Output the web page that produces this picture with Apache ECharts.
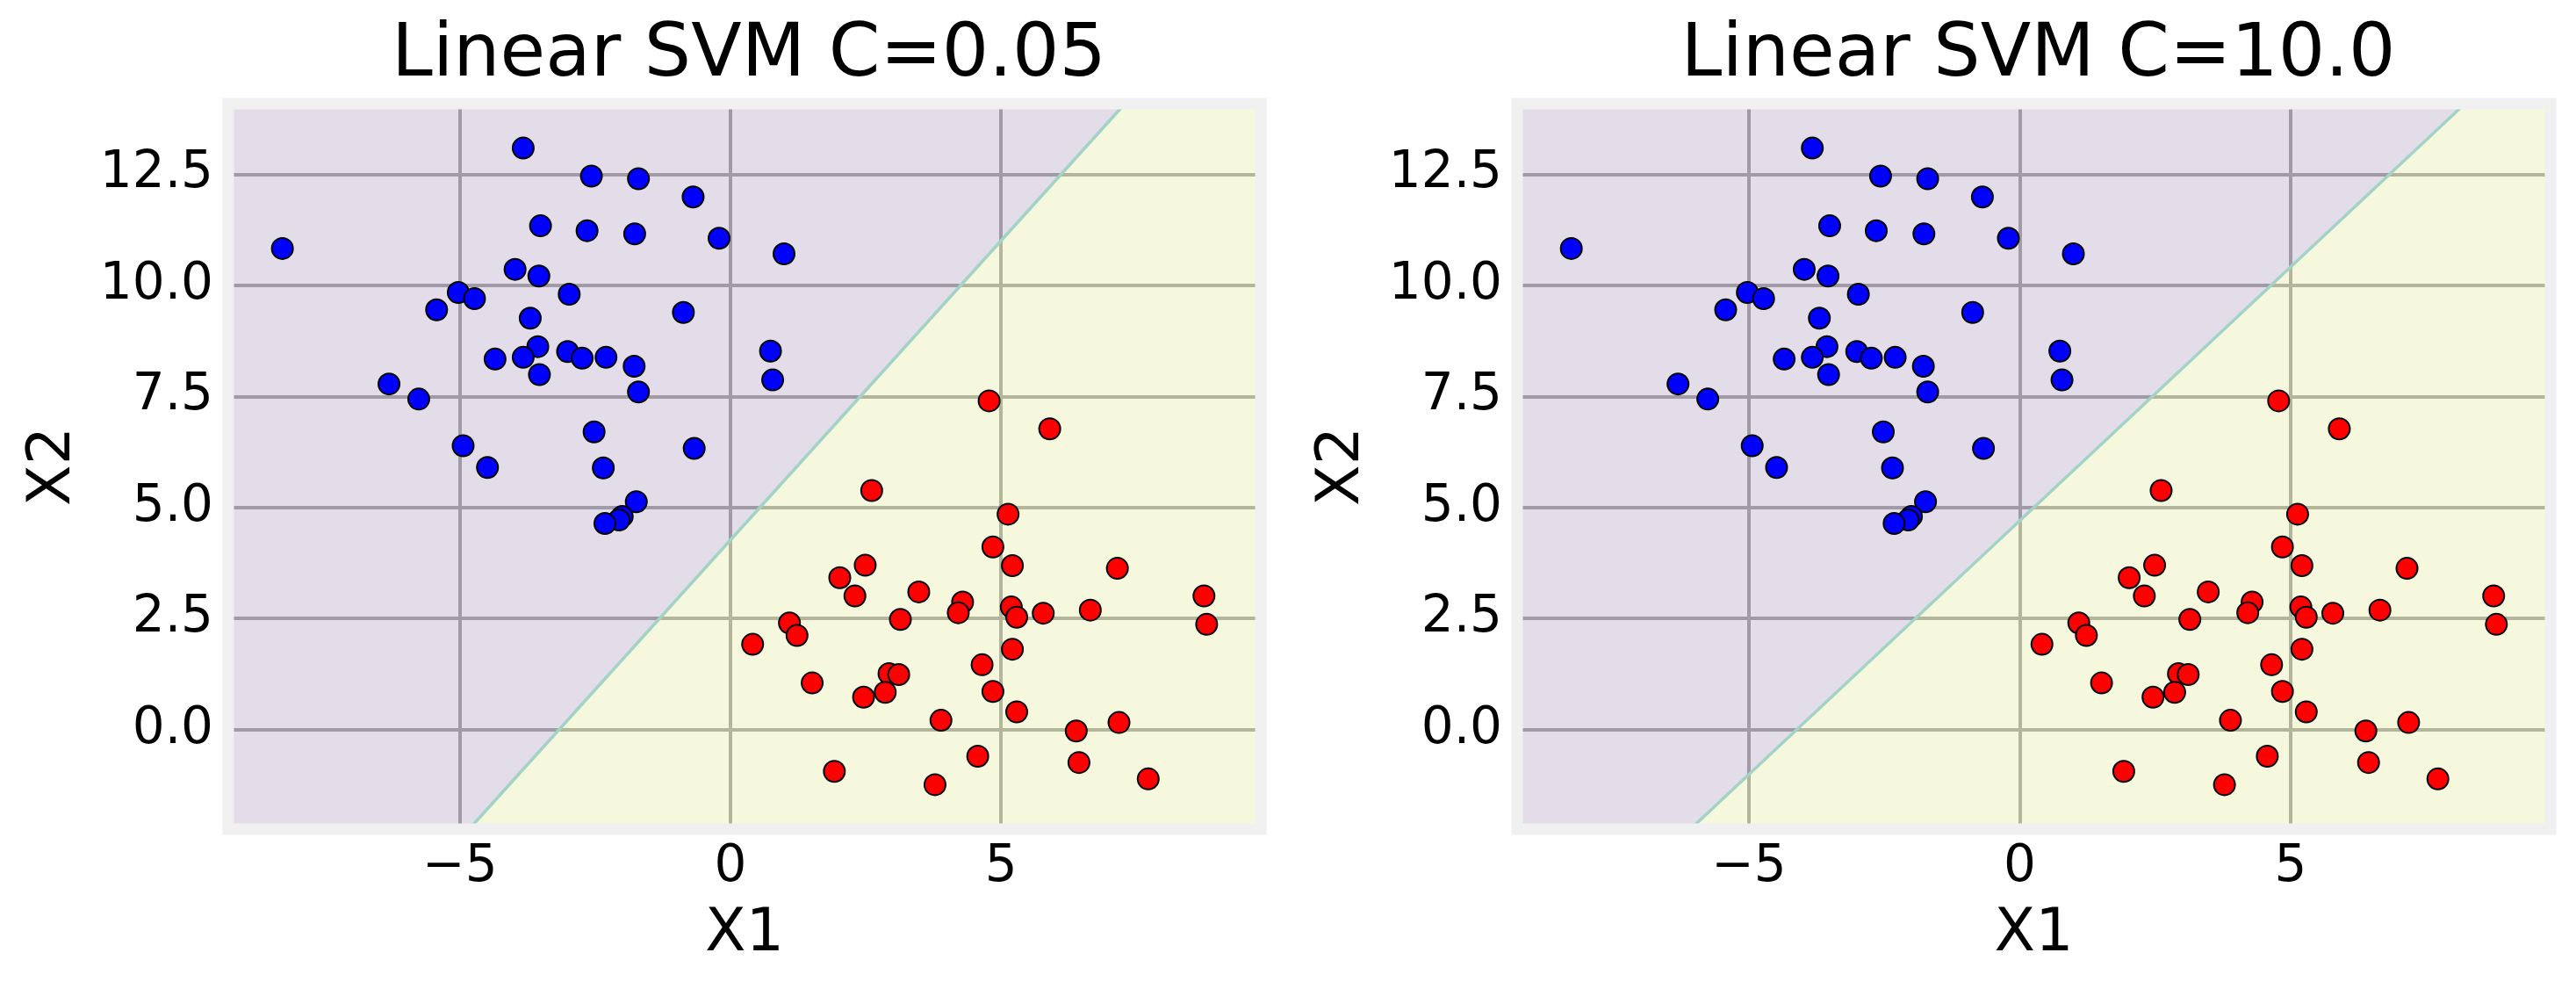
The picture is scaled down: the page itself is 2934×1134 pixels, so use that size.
<!DOCTYPE html>
<html>
<head>
<meta charset="utf-8">
<script src="https://cdn.jsdelivr.net/npm/echarts@6/dist/echarts.min.js"></script>
<style>
  html, body { margin: 0; padding: 0; background: #fff; }
  #chart { width: 2934px; height: 1134px; }
</style>
</head>
<body>
<div id="chart"></div>
<script>
// axis limits (mesh runs from data min-1 to max+1)
const xRange = [-9.28, 9.80]
const yRange = [-2.24, 14.09]
const xStep = 5
const yStep = 2.5

const titles = ['Linear SVM C=0.05', 'Linear SVM C=10.0']

// decision boundary, x where it meets the bottom and the top of the plot
const boundaryX = [[-4.83, 7.29], [-6.08, 8.22]]
const boundaryY = [-2.24, 14.09]

// class 0 (blue)
const blueX = [-8.28, -3.83, -2.57, -1.70, -0.69, -3.51, -2.65, -1.77, -0.21, 0.99,
  -3.98, -3.54, -5.03, -4.73, -2.98, -5.43, -3.70, -0.87, 0.74, 0.78,
  -3.56, -3.01, -2.74, -2.30, -1.78, -3.83, -4.35, -3.53, -1.70, -6.31,
  -5.76, -2.52, -4.94, -0.67, -4.49, -2.35, -1.74, -2.00, -2.06, -2.32]
const blueY = [10.83, 13.09, 12.46, 12.40, 11.99, 11.34, 11.23, 11.16, 11.06, 10.71,
  10.36, 10.21, 9.84, 9.70, 9.80, 9.45, 9.26, 9.39, 8.52, 7.87,
  8.62, 8.51, 8.36, 8.38, 8.18, 8.38, 8.34, 7.99, 7.60, 7.78,
  7.44, 6.70, 6.39, 6.33, 5.90, 5.89, 5.13, 4.80, 4.72, 4.64]

// class 1 (red)
const redX = [2.61, 5.13, 4.85, 2.49, 5.21, 7.15, 2.02, 2.30, 3.48, 4.29,
  4.21, 8.75, 5.19, 5.29, 5.78, 6.65, 8.80, 3.14, 1.09, 1.23,
  0.41, 5.21, 4.65, 2.93, 3.11, 1.51, 2.86, 4.85, 2.46, 5.29,
  3.89, 7.18, 6.39, 4.57, 6.44, 1.92, 7.72, 3.78, 4.78, 5.90]
const redY = [5.38, 4.85, 4.11, 3.70, 3.69, 3.63, 3.42, 3.01, 3.10, 2.87,
  2.63, 3.01, 2.76, 2.53, 2.62, 2.69, 2.37, 2.48, 2.40, 2.12,
  1.92, 1.81, 1.46, 1.26, 1.24, 1.05, 0.84, 0.86, 0.73, 0.40,
  0.21, 0.16, -0.03, -0.60, -0.74, -0.94, -1.11, -1.24, 7.40, 6.77]

const FONT = 'DejaVu Sans'
const gridLefts = [260, 1728]
const gridWidths = [1176, 1177]

const zip = (xs, ys) => xs.map((x, i) => [x, ys[i]])
const fmtX = v => (v < 0 ? '\u2212' : '') + Math.abs(v)
const fmtY = v => (v < 0 ? '\u2212' : '') + Math.abs(v).toFixed(1)

const chart = echarts.init(document.getElementById('chart'))

const grids = [], xAxes = [], yAxes = [], series = [], titleOpts = []

for (let p = 0; p < 2; p++) {
  grids.push({
    left: gridLefts[p], top: 118, width: gridWidths[p], height: 826,
    show: true, backgroundColor: '#f0f0f0', borderWidth: 0
  })
  titleOpts.push({
    text: titles[p],
    left: gridLefts[p] + gridWidths[p] / 2,
    top: 17,
    textAlign: 'center',
    textStyle: { fontFamily: FONT, fontSize: 84, fontWeight: 'normal', color: '#000' }
  })
  xAxes.push({
    type: 'value', gridIndex: p, min: xRange[0], max: xRange[1],
    minInterval: xStep, maxInterval: xStep,
    name: 'X1', nameLocation: 'middle', nameGap: 86,
    nameTextStyle: { fontFamily: FONT, fontSize: 68, color: '#000' },
    axisLine: { show: false }, axisTick: { show: false },
    axisLabel: { fontFamily: FONT, fontSize: 58, color: '#000', margin: 15,
      showMinLabel: false, showMaxLabel: false, formatter: fmtX },
    splitLine: { show: true, lineStyle: { color: '#4b4b4b', width: 4 } }
  })
  yAxes.push({
    type: 'value', gridIndex: p, min: yRange[0], max: yRange[1],
    minInterval: yStep, maxInterval: yStep,
    name: 'X2', nameLocation: 'middle', nameGap: 165,
    nameTextStyle: { fontFamily: FONT, fontSize: 68, color: '#000' },
    axisLine: { show: false }, axisTick: { show: false },
    axisLabel: { fontFamily: FONT, fontSize: 58, color: '#000', margin: 17,
      showMinLabel: false, showMaxLabel: false, formatter: fmtY },
    splitLine: { show: true, lineStyle: { color: '#4b4b4b', width: 4 } }
  })

  const bx = boundaryX[p]
  // decision regions: 0 = purple side, 1 = yellow side
  const regions = [
    [[xRange[0], yRange[0]], [bx[0], boundaryY[0]], [bx[1], boundaryY[1]], [xRange[0], yRange[1]]],
    [[bx[0], boundaryY[0]], [xRange[1], yRange[0]], [xRange[1], yRange[1]], [bx[1], boundaryY[1]]]
  ]
  const regionFill = ['rgba(217,208,228,0.6)', 'rgba(250,253,210,0.6)']
  series.push({
    type: 'custom', xAxisIndex: p, yAxisIndex: p, z: 2, silent: true,
    data: [[0, 0], [1, 0]],
    renderItem: (params, api) => {
      const idx = api.value(0)
      return {
        type: 'polygon',
        shape: { points: regions[idx].map(pt => api.coord(pt)) },
        style: { fill: regionFill[idx], stroke: null }
      }
    }
  })
  series.push({
    type: 'line', xAxisIndex: p, yAxisIndex: p, z: 3, silent: true,
    symbol: 'none',
    data: zip(bx, boundaryY),
    lineStyle: { color: '#a2d3c6', width: 3.5 }
  })
  series.push({
    type: 'scatter', xAxisIndex: p, yAxisIndex: p, z: 4,
    data: zip(blueX, blueY), symbolSize: 24,
    itemStyle: { color: '#0000ff', borderColor: '#000', borderWidth: 2, opacity: 1 }
  })
  series.push({
    type: 'scatter', xAxisIndex: p, yAxisIndex: p, z: 4,
    data: zip(redX, redY), symbolSize: 24,
    itemStyle: { color: '#ff0000', borderColor: '#000', borderWidth: 2, opacity: 1 }
  })
  // thick light frame around the axes (spine), drawn on top
  series.push({
    type: 'custom', xAxisIndex: p, yAxisIndex: p, z: 10, silent: true, clip: false,
    data: [[0, 0]],
    renderItem: (params) => {
      const cs = params.coordSys
      return {
        type: 'rect',
        shape: { x: cs.x, y: cs.y, width: cs.width, height: cs.height },
        style: { fill: null, stroke: '#f0f0f0', lineWidth: 13 }
      }
    }
  })
}

chart.setOption({
  animation: false,
  backgroundColor: '#ffffff',
  textStyle: { fontFamily: FONT },
  title: titleOpts,
  grid: grids,
  xAxis: xAxes,
  yAxis: yAxes,
  series: series
})

window.addEventListener('resize', () => chart.resize())
</script>
</body>
</html>
